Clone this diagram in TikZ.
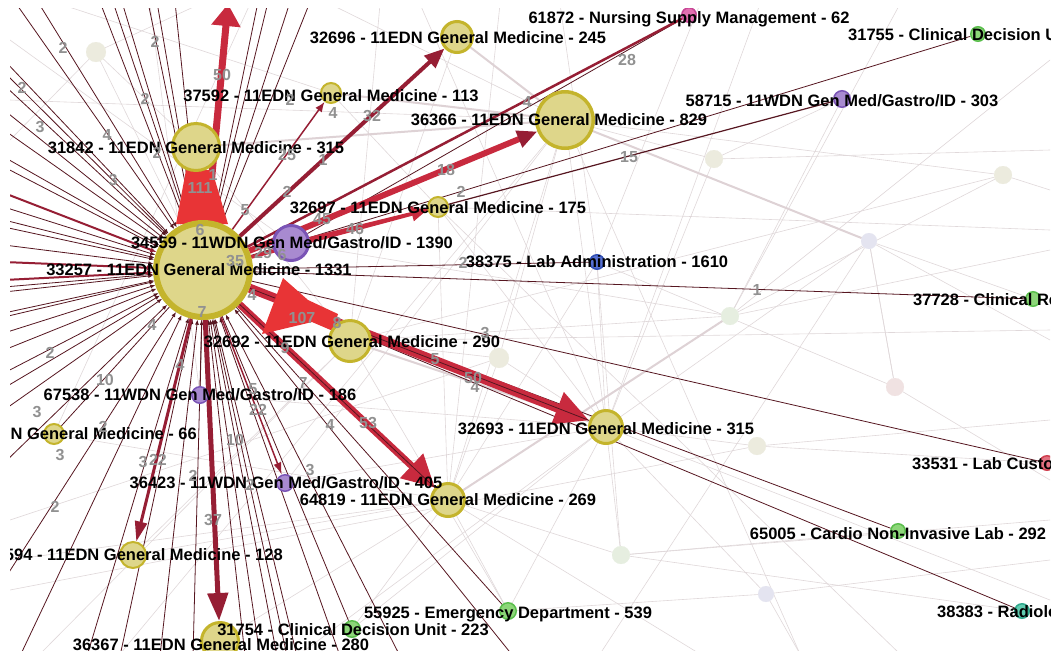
\documentclass[tikz,border=0pt]{standalone}
\usepackage{fontspec}
\setmainfont{Liberation Sans}
\usetikzlibrary{arrows.meta}
\definecolor{yelF}{RGB}{222,214,138}
\definecolor{yelD}{RGB}{196,180,44}
\definecolor{purF}{RGB}{168,138,208}
\definecolor{purD}{RGB}{122,84,182}
\definecolor{grnF}{RGB}{140,214,120}
\definecolor{grnD}{RGB}{90,190,76}
\definecolor{pinkF}{RGB}{226,112,176}
\definecolor{pinkD}{RGB}{200,70,150}
\definecolor{bluF}{RGB}{86,112,212}
\definecolor{bluD}{RGB}{50,80,180}
\definecolor{redF}{RGB}{226,112,128}
\definecolor{redD}{RGB}{208,64,80}
\definecolor{tealF}{RGB}{96,204,176}
\definecolor{tealD}{RGB}{48,168,140}
\definecolor{fyel}{RGB}{236,235,222}
\definecolor{fgrn}{RGB}{230,238,224}
\definecolor{fpur}{RGB}{228,228,240}
\definecolor{fred}{RGB}{240,226,226}
\definecolor{dk}{RGB}{86,22,32}
\definecolor{mr}{RGB}{150,30,52}
\definecolor{rd}{RGB}{200,42,62}
\definecolor{brt}{RGB}{232,52,54}
\definecolor{lg}{RGB}{224,216,218}
\definecolor{lgd}{RGB}{222,210,213}
\definecolor{elc}{RGB}{145,145,145}
\def\nodelist{hub/203/270/50/yelN/6,
 n31842/196/147/25/yelN/3,
 n32696/457/37/17/yelN/3,
 n61872/689/15/8/pinkN/1.5,
 n31755/978/34/8/grnN/1.5,
 n37592/331/93/11/yelN/2,
 n36366/565/120/30/yelN/3.5,
 n58715/842/99/9/purN/1.5,
 n32697/438/207/11/yelN/2,
 n34559/291/243/19/purN/3,
 n38375/597/262/8/bluN/1.5,
 n37728/1033/299/8/grnN/1.5,
 n32692/350/341/22/yelN/3,
 n67538/200/395/9/purN/1.5,
 n66/54/434/11/yelN/2,
 n32693/606/427/18/yelN/3,
 n33531/1047/463/8/redN/1.5,
 n36423/285/483/9/purN/1.5,
 n64819/448/500/18/yelN/3,
 n128/133/555/14/yelN/2,
 n65005/898/531/8/grnN/1.5,
 n55925/508/611/9/grnN/1.5,
 n31754/352/629/9/grnN/1.5,
 n36367/220/641/20/yelN/3,
 n38383/1022/611/8/tealN/1.5,
 f1/96/52/10/fyelN/0.1,
 f2/714/159/9/fyelN/0.1,
 f3/1003/175/9/fyelN/0.1,
 f4/869/241/8/fpurN/0.1,
 f5/730/316/9/fgrnN/0.1,
 f6/895/387/9/fredN/0.1,
 f7/757/446/9/fyelN/0.1,
 f8/499/358/10/fyelN/0.1,
 f9/621/555/9/fgrnN/0.1,
 f10/766/594/8/fpurN/0.1}
\begin{document}
\begin{tikzpicture}[x=1pt,y=-1pt,
 vert/.style={circle,inner sep=0pt,outer sep=0pt},
 yelN/.style={fill=yelF,draw=yelD}, purN/.style={fill=purF,draw=purD},
 grnN/.style={fill=grnF,draw=grnD}, pinkN/.style={fill=pinkF,draw=pinkD},
 bluN/.style={fill=bluF,draw=bluD}, redN/.style={fill=redF,draw=redD},
 tealN/.style={fill=tealF,draw=tealD},
 fyelN/.style={fill=fyel,draw=fyel}, fgrnN/.style={fill=fgrn,draw=fgrn},
 fpurN/.style={fill=fpur,draw=fpur}, fredN/.style={fill=fred,draw=fred},
 dline/.style={draw=dk,line width=0.8pt,-{Latex[length=5pt,width=4pt]}},
 dplain/.style={draw=dk,line width=0.8pt},
 mline/.style={draw=mr,line width=2pt},
 bgline/.style={draw=lg,line width=0.6pt},
 bgthick/.style={draw=lgd,line width=2pt},
 nlab/.style={font=\fontsize{16.5}{17}\selectfont\bfseries,text=black,inner sep=0pt},
 elab/.style={font=\fontsize{16}{16}\selectfont\bfseries,text=elc,inner sep=0pt}]
\useasboundingbox (0,0) rectangle (1056,657);
\fill[white] (0,0) rectangle (1056,657);
\begin{scope}
\clip (10,8) rectangle (1050,650);
% invisible nodes for anchoring
\foreach \nm/\x/\y/\r/\s/\w in \nodelist {\node[vert,minimum size={2*\r pt}] (\nm) at (\x,\y) {};}
% edge coordinates
\coordinate (t50) at (228,4);
\foreach \a/\b [count=\i] in {1050/110,1050/150,1050/190,1050/250,1050/340,1050/420,1050/480,1050/520,1050/560,1050/600,900/4,700/4,560/4,330/4,380/4,420/4,500/4,300/654,700/654,800/654,640/654,10/560,10/590,10/140,200/4,10/520,1050/330,1050/230,10/40,250/4,10/100,150/4,60/4,40/654,120/654,600/654,900/654,1050/60,760/4}
 {\coordinate (B\i) at (\a,\b);}
% light background lines
\foreach \a/\b in {B14/n36366,B15/n32692,B16/n32693,B17/n64819,n32696/n32692,f2/n36366,f2/B2,f2/n32693,f3/B3,f3/n36366,f3/n32692,f4/n36366,f4/B5,f4/n32693,f5/n64819,f5/B11,f5/B4,f5/n32692,f6/n38375,f6/B7,f6/f4,f7/n32693,f7/B6,f7/B23,f8/n36366,f8/n32693,f8/n32692,f8/n64819,f9/n32693,f9/n64819,f9/n38375,f9/B8,f10/n32693,f10/B9,f10/n55925,f10/B20,n64819/n55925,n64819/n36367,n64819/n128,n64819/B19,n64819/B22,n32693/n55925,n32693/n31754,n32693/B18,n32693/n36423,n32693/B10,n38375/n32693,n38375/n64819,n38375/B13,n38375/B12,n32697/n64819,n32697/n32693,n36366/n64819,n36366/n32693,n36366/B20,f1/n31842,f1/hub,f1/B24,f1/B25,B26/f8,B27/n32692,B28/n32697,B29/n34559,B30/n66,B31/n36366,B32/n67538,B33/n37592,B34/n32692,B35/n36366,B36/f4,B37/n32697,B38/f5,B39/n32693,n37592/n32697,n31842/n32692,n66/n64819,n128/n32692,n67538/n32693,n36423/n36366,n31754/n64819,n55925/n32692,n58715/f5,n58715/f2,f3/f5,f4/f6,n37728/f4,n33531/f7,n65005/f9,n38383/f9,n34559/f5}
 {\draw[bgline] (\a) -- (\b);}
\foreach \a/\b in {n31842/n36366,n37592/n36366,n32696/n36366,f4/n36366,n32692/n32693,f5/n64819}
 {\draw[bgthick] (\a) -- (\b);}
% thin dark lines into the hub
\foreach \x [count=\i] in {15,38,100,113,122,148,157,175,258,268,290,310}
 {\coordinate (T\i) at (\x,2); \draw[dline] (T\i) -- (hub);}
\foreach \y [count=\i] in {60,72,85,110,130,157,167,207,220,227,245,287,292,313,317,333,350,373,388,410,463,580}
 {\coordinate (L\i) at (4,\y); \draw[dline] (L\i) -- (hub);}
\foreach \x [count=\i] in {20,87,120,160,193,245,260,277,287,297,340,400,513}
 {\coordinate (D\i) at (\x,656); \draw[dline] (D\i) -- (hub);}
\coordinate (M1) at (4,193); \coordinate (M2) at (4,262); \coordinate (M3) at (4,280);
\foreach \c in {M1,M2,M3} {\draw[mline,-{Latex[length=6pt,width=5pt]}] (\c) -- (hub);}
\draw[dplain] (hub) -- (n38375);
\draw[dplain] (hub) -- (n37728);
\draw[dplain] (hub) -- (n33531);
\draw[dplain] (hub) -- (n65005);
\draw[dplain] (hub) -- (n38383);
\draw[dplain] (hub) -- (n31755);
\draw[dplain,line width=1.2pt] (hub) -- (n58715);
\draw[dplain] (n34559) -- (n61872);
\draw[dplain] (hub) -- (n55925);
\draw[dplain] (hub) -- (n31754);
\draw[dplain] (hub) -- (n66);
\draw[dplain] (hub) -- (n67538);
\draw[dline] (hub) -- (n31842);
\draw[draw=mr,line width=1.5pt,-{Latex[length=10pt,width=8pt]}] (hub) -- (n37592);
\draw[draw=mr,line width=1.5pt,-{Latex[length=12pt,width=8pt]}] (hub) -- (n36423);
\draw[draw=mr,line width=2.5pt] (hub) -- (n61872);
% red weighted arrows
\draw[draw=rd,line width=7pt,-{Triangle[width=28pt,length=22pt]}] (hub) -- (t50);
\draw[draw=mr,line width=4pt,-{Triangle[width=16pt,length=20pt]}] (hub) -- (n32696);
\draw[draw=rd,line width=6pt,-{Triangle[width=17pt,length=20pt,color=mr]}] (hub) -- (n36366);
\draw[draw=rd,line width=3.5pt,-{Triangle[width=14pt,length=16pt]}] (hub) -- (n32697);
\draw[draw=rd,line width=3pt] (n34559) -- (n32697);
\draw[draw=rd,line width=9pt,-{Triangle[width=32pt,length=34pt]}] (hub) -- (n32693);
\draw[draw=dk,line width=0.8pt] (hub) -- (n32693);
\draw[draw=rd,line width=7pt,-{Triangle[width=32pt,length=32pt]}] (hub) -- (n64819);
\draw[draw=dk,line width=0.8pt] (hub) -- (n64819);
\draw[draw=mr,line width=5pt,-{Triangle[width=20pt,length=28pt]}] (hub) -- (n36367);
\draw[draw=mr,line width=3pt,-{Triangle[width=12pt,length=20pt]}] (hub) -- (n128);
\fill[brt] (186,170) -- (212,170) -- (228,224) -- (176,224) -- cycle;
\fill[brt] (283,278) -- (308,300) -- (338,314) -- (333,331) -- (312,322) -- (262,334) -- cycle;
% visible node circles
\foreach \nm/\x/\y/\r/\s/\w in \nodelist {\path[\s,line width=\w pt] (\nm.center) circle[radius={\r pt-0.5*\w pt}];}
% node labels
\node[nlab] (l31842) at (196,148) {31842 - 11EDN General Medicine - 315};
\node[nlab] (l32696) at (458,38) {32696 - 11EDN General Medicine - 245};
\node[nlab] (l61872) at (689,19) {61872 - Nursing Supply Management - 62};
\node[nlab,anchor=west] (l31755) at (848,35) {31755 - Clinical Decision Unit};
\node[nlab] (l37592) at (331,96) {37592 - 11EDN General Medicine - 113};
\node[nlab] (l36366) at (559,120) {36366 - 11EDN General Medicine - 829};
\node[nlab] (l58715) at (842,101) {58715 - 11WDN Gen Med/Gastro/ID - 303};
\node[nlab] (l32697) at (438,208) {32697 - 11EDN General Medicine - 175};
\node[nlab] (l34559) at (292,243) {34559 - 11WDN Gen Med/Gastro/ID - 1390};
\node[nlab] (lhub) at (199,270) {33257 - 11EDN General Medicine - 1331};
\node[nlab] (l38375) at (597,262) {38375 - Lab Administration - 1610};
\node[nlab,anchor=west] (l37728) at (913,300) {37728 - Clinical Review};
\node[nlab] (l32692) at (352,342) {32692 - 11EDN General Medicine - 290};
\node[nlab] (l67538) at (200,395) {67538 - 11WDN Gen Med/Gastro/ID - 186};
\node[nlab,anchor=east] (l66) at (197,434) {11EDN General Medicine - 66};
\node[nlab] (l32693) at (606,429) {32693 - 11EDN General Medicine - 315};
\node[nlab,anchor=west] (l33531) at (912,464) {33531 - Lab Customer};
\node[nlab] (l36423) at (286,483) {36423 - 11WDN Gen Med/Gastro/ID - 405};
\node[nlab] (l64819) at (448,500) {64819 - 11EDN General Medicine - 269};
\node[nlab,anchor=east] (l128) at (283,555) {594 - 11EDN General Medicine - 128};
\node[nlab] (l65005) at (898,534) {65005 - Cardio Non-Invasive Lab - 292};
\node[nlab] (l55925) at (508,614) {55925 - Emergency Department - 539};
\node[nlab] (l31754) at (353,630) {31754 - Clinical Decision Unit - 223};
\node[nlab] (l36367) at (221,645) {36367 - 11EDN General Medicine - 280};
\node[nlab,anchor=west] (l38383) at (937,613) {38383 - Radiology};
% edge weight labels
\foreach \x/\y/\t [count=\i] in {63/48/2,155/42/2,22/88/2,40/127/3,145/99/2,107/135/4,113/180/3,222/75/50,290/100/2,333/113/4,157/153/2,213/175/1,200/188/111,287/155/25,323/160/1,287/192/2,245/210/5,372/116/32,527/102/4,446/170/18,627/60/28,629/157/15,461/192/2,322/219/45,355/229/46,263/253/29,282/255/6,200/230/6,235/261/35,252/295/4,202/312/7,302/318/107,337/323/8,463/263/2,485/333/3,435/359/5,473/378/50,475/387/4,285/348/9,152/325/4,50/353/2,180/365/4,105/380/10,37/412/3,303/383/7,253/389/5,258/410/22,330/425/4,368/423/53,235/440/10,60/455/3,143/462/3,158/460/22,193/476/2,310/470/3,250/485/2,55/507/2,213/520/37,757/290/1,103/427/2}
 {\node[elab] (e\i) at (\x,\y) {\t};}
\end{scope}
\end{tikzpicture}
\end{document}
